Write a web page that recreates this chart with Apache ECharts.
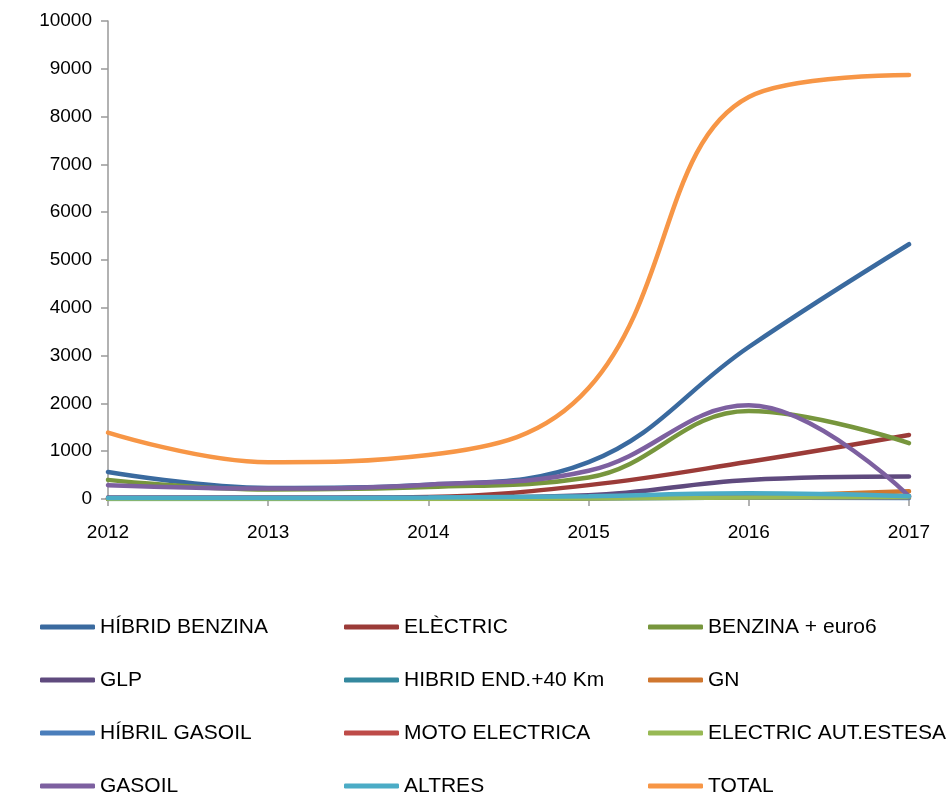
<!DOCTYPE html>
<html>
<head>
<meta charset="utf-8">
<script src="https://cdn.jsdelivr.net/npm/echarts@6/dist/echarts.min.js"></script>
<style>
  html, body { margin: 0; padding: 0; background: #fff; }
  #chart { width: 947px; height: 797px; }
</style>
</head>
<body>
<div id="chart"></div>
<script>
const years = ['2012', '2013', '2014', '2015', '2016', '2017'];

const hibridBenzina = [565, 230, 300, 770, 3180, 5330];
const electric = [10, 10, 40, 290, 780, 1340];
const benzinaEuro6 = [400, 200, 250, 450, 1840, 1170];
const glp = [30, 30, 30, 80, 400, 470];
const hibridEnd40 = [0, 0, 5, 20, 100, 60];
const gn = [5, 5, 10, 20, 60, 160];
const hibrilGasoil = [5, 5, 5, 10, 30, 20];
const motoElectrica = [5, 5, 10, 20, 40, 40];
const electricAutEstesa = [0, 0, 0, 10, 30, 40];
const gasoil = [290, 220, 300, 590, 1960, 60];
const altres = [20, 20, 30, 60, 120, 60];
const total = [1390, 770, 920, 2320, 8410, 8870];

const yTicks = [0, 1000, 2000, 3000, 4000, 5000, 6000, 7000, 8000, 9000, 10000];

const series = [
  ['HÍBRID BENZINA', hibridBenzina, '#3A6A9F'],
  ['ELÈCTRIC', electric, '#9B3B38'],
  ['BENZINA + euro6', benzinaEuro6, '#77963D'],
  ['GLP', glp, '#5F4A7E'],
  ['HIBRID END.+40 Km', hibridEnd40, '#34889E'],
  ['GN', gn, '#D0772F'],
  ['HÍBRIL GASOIL', hibrilGasoil, '#4A7EBB'],
  ['MOTO ELECTRICA', motoElectrica, '#BE4B48'],
  ['ELECTRIC AUT.ESTESA', electricAutEstesa, '#98B954'],
  ['GASOIL', gasoil, '#7D60A0'],
  ['ALTRES', altres, '#4BACC6'],
  ['TOTAL', total, '#F79646']
];

const font = 'Liberation Sans';

function legendCol(left, names) {
  return {
    orient: 'vertical',
    left: left,
    top: 616,
    height: 300,
    padding: 0,
    itemGap: 31,
    itemWidth: 55,
    itemHeight: 5,
    icon: 'roundRect',
    textStyle: { fontFamily: font, fontSize: 21, lineHeight: 22, color: '#000' },
    data: names
  };
}

const chart = echarts.init(document.getElementById('chart'));
chart.setOption({
  animation: false,
  grid: { left: 108, right: 38, top: 21, bottom: 298 },
  xAxis: {
    type: 'category',
    data: years,
    boundaryGap: false,
    axisLine: { lineStyle: { color: '#999', width: 1.5 } },
    axisTick: { show: true, length: 7, lineStyle: { color: '#999', width: 1.5 } },
    axisLabel: { fontFamily: font, fontSize: 19, color: '#000', margin: 24 }
  },
  yAxis: {
    type: 'value',
    min: 0,
    max: 10000,
    interval: 1000,
    axisLine: { show: true, lineStyle: { color: '#999', width: 1.5 } },
    axisTick: { show: true, length: 7, lineStyle: { color: '#999', width: 1.5 } },
    splitLine: { show: false },
    axisLabel: {
      fontFamily: font, fontSize: 19, color: '#000', margin: 16,
      formatter: v => yTicks.includes(v) ? String(v) : ''
    }
  },
  legend: [
    legendCol(40, ['HÍBRID BENZINA', 'GLP', 'HÍBRIL GASOIL', 'GASOIL']),
    legendCol(344, ['ELÈCTRIC', 'HIBRID END.+40 Km', 'MOTO ELECTRICA', 'ALTRES']),
    legendCol(648, ['BENZINA + euro6', 'GN', 'ELECTRIC AUT.ESTESA', 'TOTAL'])
  ],
  series: series.map(([name, data, color]) => ({
    name: name,
    type: 'line',
    data: data,
    smooth: 0.4,
    showSymbol: false,
    symbol: 'none',
    color: color,
    lineStyle: { width: 4.5, color: color, cap: 'round' }
  }))
});
</script>
</body>
</html>
